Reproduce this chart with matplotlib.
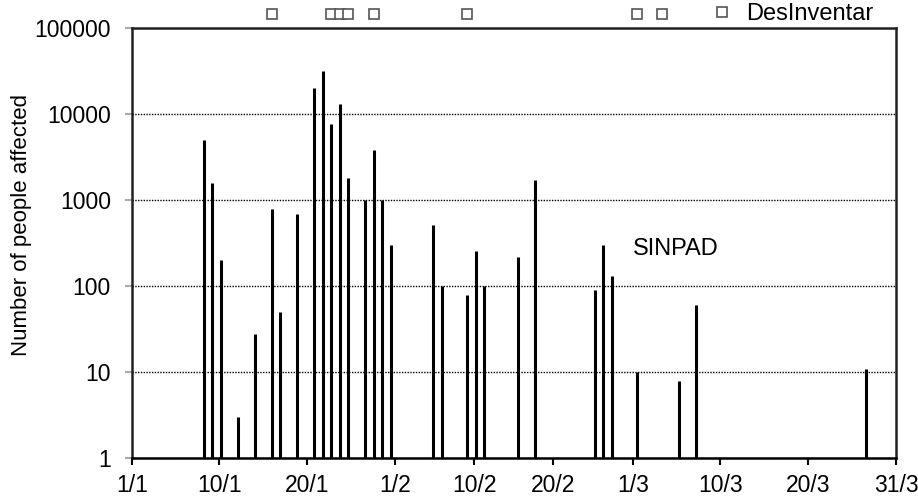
import numpy as np
import matplotlib
matplotlib.use("Agg")
import matplotlib.pyplot as plt
from matplotlib.ticker import FixedLocator, NullLocator

# SINPAD events: day of year (1 = 1 Jan) and people affected
sinpad_day = [9, 10, 11, 13, 15, 17, 18, 20, 22, 23, 24, 25, 26, 28, 29, 30, 31,
              36, 37, 40, 41, 42, 46, 48, 55, 56, 57, 60, 65, 67, 87]
sinpad_affected = [5000, 1600, 200, 3, 28, 800, 50, 700, 20000, 32000, 7700, 13000,
                   1800, 1000, 3800, 1000, 300, 520, 100, 80, 260, 100, 220, 1700,
                   90, 300, 130, 10, 8, 60, 11]

# DesInventar records (day of year), shown as markers above the plot
desinventar_day = [17, 24, 25, 26, 29, 40, 60, 63]

month_days = [31, 28, 31]
x_labels = ["1/1", "10/1", "20/1", "1/2", "10/2", "20/2", "1/3", "10/3", "20/3", "31/3"]
y_ticks = [1, 10, 100, 1000, 10000, 100000]

plt.rcParams["font.family"] = ["Liberation Sans", "DejaVu Sans"]

fig = plt.figure(figsize=(9.18, 4.99), dpi=100)
ax = fig.add_axes([0.1435, 0.0816, 0.8325, 0.8617])

# each day is a slot, bar drawn in the middle of it
x = np.array(sinpad_day) - 0.5
ax.vlines(x, 1, sinpad_affected, colors="black", linewidth=2.2, zorder=3)

xd = np.array(desinventar_day) - 0.5
ax.plot(xd, [1.033] * len(xd), linestyle="none", marker="s", markersize=6.5,
        markerfacecolor="white", markeredgecolor="#555555", markeredgewidth=1.2,
        transform=ax.get_xaxis_transform(), clip_on=False, label="DesInventar")

ax.text(59.0, 270, "SINPAD", fontsize=17, ha="left", va="center")

ax.set_yscale("log")
ax.set_ylim(1, 100000)
ax.set_xlim(0, sum(month_days))

# ticks at start and thirds of every month
starts = np.concatenate([[0], np.cumsum(month_days)[:-1]])
ticks = [s + m * f for s, m in zip(starts, month_days) for f in (0, 1 / 3, 2 / 3)]
ticks.append(sum(month_days))
ax.xaxis.set_major_locator(FixedLocator(ticks))
ax.set_xticklabels(x_labels)
ax.yaxis.set_major_locator(FixedLocator(y_ticks))
ax.yaxis.set_minor_locator(NullLocator())
ax.set_yticklabels([str(v) for v in y_ticks])

ax.tick_params(axis="x", direction="out", length=5, width=1.5, color="black",
               labelsize=16.5, pad=6)
ax.tick_params(axis="y", direction="out", length=5, width=1.2, color="#999999",
               labelsize=16.5, pad=10)

ax.grid(axis="y", color="black", linestyle=(0, (1, 1)), linewidth=1.0)
ax.set_axisbelow(True)

for side in ["left", "right", "top", "bottom"]:
    ax.spines[side].set_linewidth(1.8)
    ax.spines[side].set_color("#222222")
ax.spines["bottom"].set_color("black")

ax.set_ylabel("Number of people affected", fontsize=16)
ax.yaxis.set_label_coords(-0.13, 0.543)

ax.legend(loc="center right", bbox_to_anchor=(0.971, 1.033), frameon=False,
          fontsize=17, handletextpad=0.55, borderpad=0, borderaxespad=0,
          handlelength=1.0)

fig.savefig("out.png", dpi=100)
